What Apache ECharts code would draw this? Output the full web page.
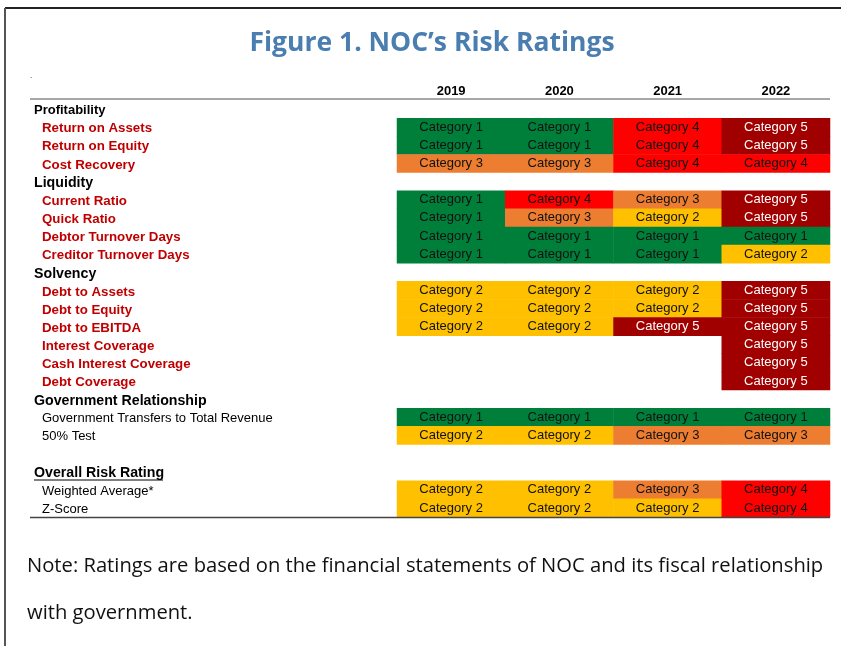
<!DOCTYPE html>
<html>
<head>
<meta charset="utf-8">
<script src="https://cdn.jsdelivr.net/npm/echarts@6/dist/echarts.min.js"></script>
<style>
  html, body { margin: 0; padding: 0; background: #fff; }
  #main { width: 841px; height: 646px; }
</style>
</head>
<body>
<div id="main"></div>
<script>
// 年份
var years = ['2019', '2020', '2021', '2022'];

// 行标签 + 行类型 (h = 分组标题, H = 大号分组标题, r = 红色指标, p = 普通, b = 空行)
var rowLabels = ['Profitability', 'Return on Assets', 'Return on Equity', 'Cost Recovery',
    'Liquidity', 'Current Ratio', 'Quick Ratio', 'Debtor Turnover Days', 'Creditor Turnover Days',
    'Solvency', 'Debt to Assets', 'Debt to Equity', 'Debt to EBITDA', 'Interest Coverage',
    'Cash Interest Coverage', 'Debt Coverage',
    'Government Relationship', 'Government Transfers to Total Revenue', '50% Test',
    ' ', 'Overall Risk Rating', 'Weighted Average*', 'Z-Score'];
var rowTypes = ['h', 'r', 'r', 'r',
    'H', 'r', 'r', 'r', 'r',
    'H', 'r', 'r', 'r', 'r', 'r', 'r',
    'H', 'p', 'p',
    'b', 'H', 'p', 'p'];

// 每年的风险等级 (null = 空)
var r2019 = [null, 1, 1, 3, null, 1, 1, 1, 1, null, 2, 2, 2, null, null, null, null, 1, 2, null, null, 2, 2];
var r2020 = [null, 1, 1, 3, null, 4, 3, 1, 1, null, 2, 2, 2, null, null, null, null, 1, 2, null, null, 2, 2];
var r2021 = [null, 4, 4, 4, null, 3, 2, 1, 1, null, 2, 2, 5, null, null, null, null, 1, 3, null, null, 3, 2];
var r2022 = [null, 5, 5, 4, null, 5, 5, 1, 2, null, 5, 5, 5, 5, 5, 5, null, 1, 3, null, null, 4, 4];

var catColors = {1: '#007F3B', 2: '#FFC000', 3: '#ED7D31', 4: '#FF0000', 5: '#A00000'};

var dom = document.getElementById('main');
var myChart = echarts.init(dom);

var cols = [r2019, r2020, r2021, r2022];
var heatData = [];
cols.forEach(function (col, xi) {
    col.forEach(function (v, yi) {
        if (v == null) return;
        heatData.push({
            value: [xi, yi, v],
            label: { color: v === 5 ? '#fff' : '#111' }
        });
    });
});

var option = {
    backgroundColor: '#fff',
    animation: false,
    title: {
        text: 'Figure 1. NOC\u2019s Risk Ratings',
        left: 427,
        top: 25,
        textAlign: 'center',
        textStyle: {
            fontFamily: 'Open Sans',
            fontWeight: 'bold',
            fontSize: 26.5,
            color: '#4A7EB0'
        }
    },
    grid: {
        left: 397,
        right: 11,
        top: 100,
        bottom: 129
    },
    xAxis: {
        type: 'category',
        position: 'top',
        data: years,
        axisLine: { show: false },
        axisTick: { show: false },
        splitLine: { show: false },
        axisLabel: {
            margin: 2,
            fontFamily: 'Liberation Sans',
            fontWeight: 'bold',
            fontSize: 13,
            color: '#000'
        }
    },
    yAxis: {
        type: 'category',
        inverse: true,
        data: rowLabels,
        axisLine: { show: false },
        axisTick: { show: false },
        splitLine: { show: false },
        axisLabel: {
            margin: 363,
            align: 'left',
            interval: 0,
            formatter: function (value, idx) {
                var t = rowTypes[idx];
                if (t === 'h') return '{h|' + value + '}';
                if (t === 'H') return '{H|' + value + '}';
                if (t === 'r') return '{r|' + value + '}';
                if (t === 'p') return '{p|' + value + '}';
                return '';
            },
            rich: {
                h: { fontFamily: 'Liberation Sans', fontWeight: 'bold', fontSize: 13, color: '#000', padding: [3, 0, 0, 0] },
                H: { fontFamily: 'Liberation Sans', fontWeight: 'bold', fontSize: 14.2, color: '#000', padding: [3, 0, 0, 0] },
                r: { fontFamily: 'Liberation Sans', fontWeight: 'bold', fontSize: 13.3, color: '#C00000', padding: [3, 0, 0, 8] },
                p: { fontFamily: 'Liberation Sans', fontSize: 13, color: '#000', padding: [3, 0, 0, 8] }
            }
        }
    },
    visualMap: {
        show: false,
        type: 'piecewise',
        dimension: 2,
        pieces: [
            { value: 1, color: catColors[1] },
            { value: 2, color: catColors[2] },
            { value: 3, color: catColors[3] },
            { value: 4, color: catColors[4] },
            { value: 5, color: catColors[5] }
        ]
    },
    series: [{
        type: 'heatmap',
        data: heatData,
        label: {
            show: true,
            fontFamily: 'Liberation Sans',
            fontSize: 13,
            formatter: function (p) { return 'Category ' + p.value[2]; }
        },
        itemStyle: { borderWidth: 0 },
        emphasis: { disabled: true }
    }],
    graphic: [
        // 外框
        { type: 'line', z: 100, shape: { x1: 5, y1: 8, x2: 841, y2: 8 }, style: { stroke: '#222', lineWidth: 2 } },
        { type: 'line', z: 100, shape: { x1: 5, y1: 8, x2: 5, y2: 646 }, style: { stroke: '#555', lineWidth: 2 } },
        // 表头分隔线 / 底线
        { type: 'line', z: 100, shape: { x1: 30, y1: 99, x2: 830, y2: 99 }, style: { stroke: '#8a8a8a', lineWidth: 1.5 } },
        { type: 'line', z: 100, shape: { x1: 30, y1: 517.5, x2: 830, y2: 517.5 }, style: { stroke: '#444', lineWidth: 1.5 } },
        // Overall Risk Rating 下划线
        { type: 'line', z: 100, shape: { x1: 34, y1: 480, x2: 163, y2: 480 }, style: { stroke: '#000', lineWidth: 1 } },
        { type: 'text', left: 30, top: 72, style: { text: '.', fontSize: 8, fill: '#000' } },
        // 注释
        {
            type: 'text', left: 27, top: 556,
            style: {
                text: 'Note: Ratings are based on the financial statements of NOC and its fiscal relationship',
                fontFamily: 'Open Sans', fontSize: 20.2, fill: '#111'
            }
        },
        {
            type: 'text', left: 27, top: 603,
            style: { text: 'with government.', fontFamily: 'Open Sans', fontSize: 20.2, fill: '#111' }
        }
    ]
};

if (option && typeof option === 'object') {
    myChart.setOption(option, true);
}
</script>
</body>
</html>
